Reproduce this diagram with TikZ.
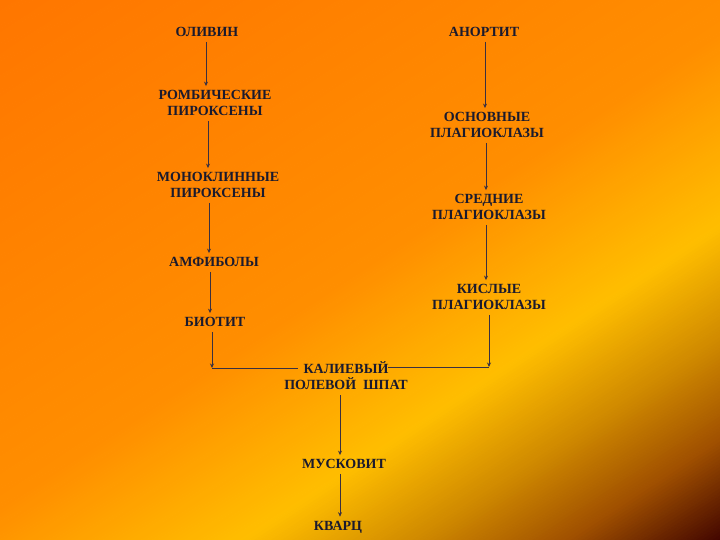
\documentclass[tikz,border=0pt]{standalone}
\usepackage{fontspec}
\setmainfont{Liberation Serif}
\usetikzlibrary{arrows.meta}
\definecolor{g0}{HTML}{FF7600}
\definecolor{g1}{HTML}{FF8E00}
\definecolor{g2}{HTML}{FFBE00}
\definecolor{g3}{HTML}{D08A00}
\definecolor{g4}{HTML}{A05000}
\definecolor{g5}{HTML}{400400}
\definecolor{txt}{HTML}{1A1A2E}
\definecolor{lnc}{HTML}{3A3040}
\begin{document}
\begin{tikzpicture}[x=1pt,y=-1pt,
 lbl/.style={font=\fontsize{14}{16}\selectfont\bfseries, text=txt, align=center, inner sep=1pt},
 arr/.style={draw=lnc, line width=0.9pt, -{Stealth[length=4.5pt,width=4pt]}},
 gap/.style={shorten <=4pt, shorten >=3pt},
 ln/.style={draw=lnc, line width=0.9pt}]
\useasboundingbox (0,0) rectangle (720,540);
\begin{scope}
\clip (0,0) rectangle (720,540);
\foreach \s in {0,3,...,849}{
  \ifdim\s pt<423pt \pgfmathsetmacro\p{\s/423*100}\colorlet{cc}{g1!\p!g0}%
  \else\ifdim\s pt<584pt \pgfmathsetmacro\p{(\s-423)/161*100}\colorlet{cc}{g2!\p!g1}%
  \else\ifdim\s pt<678pt \pgfmathsetmacro\p{(\s-584)/94*100}\colorlet{cc}{g3!\p!g2}%
  \else\ifdim\s pt<762pt \pgfmathsetmacro\p{(\s-678)/84*100}\colorlet{cc}{g4!\p!g3}%
  \else \pgfmathsetmacro\p{min(100,(\s-762)/86*100)}\colorlet{cc}{g5!\p!g4}%
  \fi\fi\fi\fi
  \fill[cc] ({\s*0.5506-834.8},{\s*0.8348+550.6}) -- ({\s*0.5506+834.8},{\s*0.8348-550.6}) -- ({(\s+3.6)*0.5506+834.8},{(\s+3.6)*0.8348-550.6}) -- ({(\s+3.6)*0.5506-834.8},{(\s+3.6)*0.8348+550.6}) -- cycle;
}
\end{scope}

\node[lbl] (ol) at (207,32) {ОЛИВИН};
\node[lbl] (rp) at (215,103) {РОМБИЧЕСКИЕ\\ПИРОКСЕНЫ};
\node[lbl] (mp) at (218,185) {МОНОКЛИННЫЕ\\ПИРОКСЕНЫ};
\node[lbl] (am) at (214,262) {АМФИБОЛЫ};
\node[lbl] (bi) at (215,322) {БИОТИТ};
\node[lbl] (an) at (484,32) {АНОРТИТ};
\node[lbl] (op) at (487,125) {ОСНОВНЫЕ\\ПЛАГИОКЛАЗЫ};
\node[lbl] (sp) at (489,207) {СРЕДНИЕ\\ПЛАГИОКЛАЗЫ};
\node[lbl] (kp) at (489,297) {КИСЛЫЕ\\ПЛАГИОКЛАЗЫ};
\node[lbl] (kal) at (346,376) {КАЛИЕВЫЙ\\ПОЛЕВОЙ\ \ ШПАТ};
\node[lbl] (mu) at (344,464) {МУСКОВИТ};
\node[lbl] (kv) at (338,527) {КВАРЦ};

\coordinate (x1) at (206,0);
\coordinate (x2) at (208,0);
\coordinate (x3) at (209,0);
\coordinate (x4) at (210,0);
\coordinate (x5) at (485,0);
\coordinate (x6) at (486,0);
\coordinate (xM) at (340,0);
\coordinate (cL) at (212,368);
\coordinate (kalL) at (298,368);
\coordinate (cR) at (489,367);
\coordinate (kalR) at (388,367);

\draw[arr,gap] (ol.south -| x1) -- (rp.north -| x1);
\draw[arr,gap] (rp.south -| x2) -- (mp.north -| x2);
\draw[arr,gap] (mp.south -| x3) -- (am.north -| x3);
\draw[arr,gap] (am.south -| x4) -- (bi.north -| x4);
\draw[arr,shorten <=4pt] (bi.south -| cL) -- (cL);
\draw[ln] (cL) -- (kalL);
\draw[arr,gap] (an.south -| x5) -- (op.north -| x5);
\draw[arr,gap] (op.south -| x6) -- (sp.north -| x6);
\draw[arr,gap] (sp.south -| x6) -- (kp.north -| x6);
\draw[arr,shorten <=4pt] (kp.south -| cR) -- (cR);
\draw[ln] (kalR) -- (cR);
\draw[arr,gap] (kal.south -| xM) -- (mu.north -| xM);
\draw[arr,gap] (mu.south -| xM) -- (kv.north -| xM);
\end{tikzpicture}
\end{document}
